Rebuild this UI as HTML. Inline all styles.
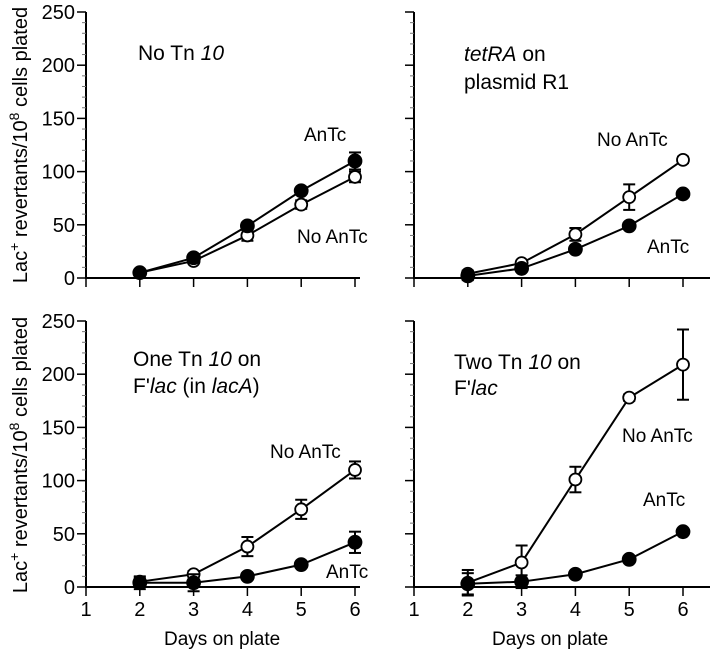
<!DOCTYPE html>
<html><head><meta charset="utf-8"><style>
html,body{margin:0;padding:0;background:#fff;}
svg{display:block;font-family:"Liberation Sans",Arial,sans-serif;}
</style></head><body>
<svg id="fig" width="712" height="654" viewBox="0 0 712 654"></svg>
<script>
const days = [2,3,4,5,6];
const yTicks = [0,50,100,150,200,250];
const xTicks = [1,2,3,4,5,6];
const tlAnTc = [5,19,49,82,110], tlAnTcErr = [2,2,3,3,8];
const tlNo = [5,16,40,69,95], tlNoErr = [2,2,5,4,5];
const trNo = [4,14,41,76,111], trNoErr = [3,2,6,12,3];
const trAnTc = [2,9,27,49,79], trAnTcErr = [4,2,2,2,3];
const blNo = [5,12,38,73,110], blNoErr = [4,3,9,9,8];
const blAnTc = [4,4,10,21,42], blAnTcErr = [6,8,3,2,10];
const brNo = [4,23,101,178,209], brNoErr = [12,16,12,3,33];
const brAnTc = [3,5,12,26,52], brAnTcErr = [10,6,2,2,3];

const NS="http://www.w3.org/2000/svg";
const svg=document.getElementById('fig');
function mk(tag,attrs,parent){const e=document.createElementNS(NS,tag);for(const k in attrs)e.setAttribute(k,attrs[k]);(parent||svg).appendChild(e);return e;}

const panels=[
 {name:'no-tn10',ax:86,y0:278,right:360,xlabels:false,series:[[tlNo,tlNoErr,false,'no-antc'],[tlAnTc,tlAnTcErr,true,'antc']]},
 {name:'tetra-plasmid',ax:414,y0:278,right:710,xlabels:false,series:[[trNo,trNoErr,false,'no-antc'],[trAnTc,trAnTcErr,true,'antc']]},
 {name:'one-tn10',ax:86,y0:587,right:360,xlabels:true,series:[[blNo,blNoErr,false,'no-antc'],[blAnTc,blAnTcErr,true,'antc']]},
 {name:'two-tn10',ax:414,y0:587,right:710,xlabels:true,series:[[brNo,brNoErr,false,'no-antc'],[brAnTc,brAnTcErr,true,'antc']]}
];
const PX_PER_DAY=53.8, PX_PER_UNIT=266/250;
panels.forEach(p=>{
  const g=mk('g',{});
  
  
  const X=d=>p.ax+(d-1)*PX_PER_DAY, Y=v=>p.y0-v*PX_PER_UNIT;
  mk('line',{x1:p.ax,y1:Y(250),x2:p.ax,y2:p.y0,stroke:'#000','stroke-width':2},g);
  mk('line',{x1:p.ax-1,y1:p.y0,x2:p.right,y2:p.y0,stroke:'#000','stroke-width':2},g);
  for(let v=0;v<=250;v+=10){
    const major=v%50===0;
    mk('line',{x1:p.ax-(major?9:4),y1:Y(v),x2:p.ax,y2:Y(v),stroke:major?'#000':'#777','stroke-width':major?1.5:1},g);
  }
  if(p.ax===86) yTicks.forEach(v=>{
    const t=mk('text',{x:p.ax-11,y:Y(v)+7,'text-anchor':'end','font-size':20},g);t.textContent=v;
    
    
  });
  xTicks.forEach(d=>{
    mk('line',{x1:X(d),y1:p.y0,x2:X(d),y2:p.y0+9,stroke:'#000','stroke-width':1.5},g);
    if(p.xlabels){const t=mk('text',{x:X(d),y:p.y0+29,'text-anchor':'middle','font-size':20},g);t.textContent=d;
      
      }
  });
  p.series.forEach(([vals,errs,filled,sname])=>{
    const sg=mk('g',{},g);
    
    
    mk('polyline',{points:days.map((d,i)=>X(d)+','+Y(vals[i])).join(' '),fill:'none',stroke:'#000','stroke-width':2},sg);
    days.forEach((d,i)=>{
      const x=X(d),yt=Y(vals[i]+errs[i]),yb=Y(Math.max(vals[i]-errs[i],-12));
      mk('line',{x1:x,y1:yt,x2:x,y2:yb,stroke:'#000','stroke-width':2},sg);
      mk('line',{x1:x-6,y1:yt,x2:x+6,y2:yt,stroke:'#000','stroke-width':2},sg);
      mk('line',{x1:x-6,y1:yb,x2:x+6,y2:yb,stroke:'#000','stroke-width':2},sg);
      const c=mk('circle',{cx:x,cy:Y(vals[i]),r:filled?6.5:6,fill:filled?'#000':'#fff',stroke:'#000','stroke-width':1.8},sg);
      
      
    });
  });
});

function label(x,y,html,name,size){
  const t=mk('text',{x:x,y:y,'font-size':size||19});
  t.innerHTML=html;
  
  
}
label(138,60,'No Tn <tspan font-style="italic">10</tspan>','title-no-tn10',21);
label(304,141,'AnTc','label-antc-tl');
label(297,243,'No AnTc','label-noantc-tl');
label(464,61,'<tspan font-style="italic">tetRA</tspan> on','title-tetra-1',21);
label(464,89,'plasmid R1','title-tetra-2',21);
label(597,146,'No AnTc','label-noantc-tr');
label(647,253,'AnTc','label-antc-tr');
label(133,366,'One Tn <tspan font-style="italic">10</tspan> on','title-one-tn10-1',21);
label(133,393,'F\'<tspan font-style="italic">lac</tspan> (in <tspan font-style="italic">lacA</tspan>)','title-one-tn10-2',21);
label(270,458,'No AnTc','label-noantc-bl');
label(326,578,'AnTc','label-antc-bl');
label(454,369,'Two Tn <tspan font-style="italic">10</tspan> on','title-two-tn10-1',21);
label(454,395,'F\'<tspan font-style="italic">lac</tspan>','title-two-tn10-2',21);
label(622,442,'No AnTc','label-noantc-br');
label(643,506,'AnTc','label-antc-br');
label(164,645,'Days on plate','x-axis-title-left',19);
label(492,645,'Days on plate','x-axis-title-right',19);
['145','455'].forEach((cy,i)=>{
  const t=mk('text',{x:0,y:0,'font-size':20,'text-anchor':'middle',transform:'translate(27,'+cy+') rotate(-90)'});
  t.innerHTML='Lac<tspan dy="-8" font-size="14">+</tspan><tspan dy="8"> revertants/10</tspan><tspan dy="-8" font-size="14">8</tspan><tspan dy="8"> cells plated</tspan>';
  
  
});
</script>
</body></html>
